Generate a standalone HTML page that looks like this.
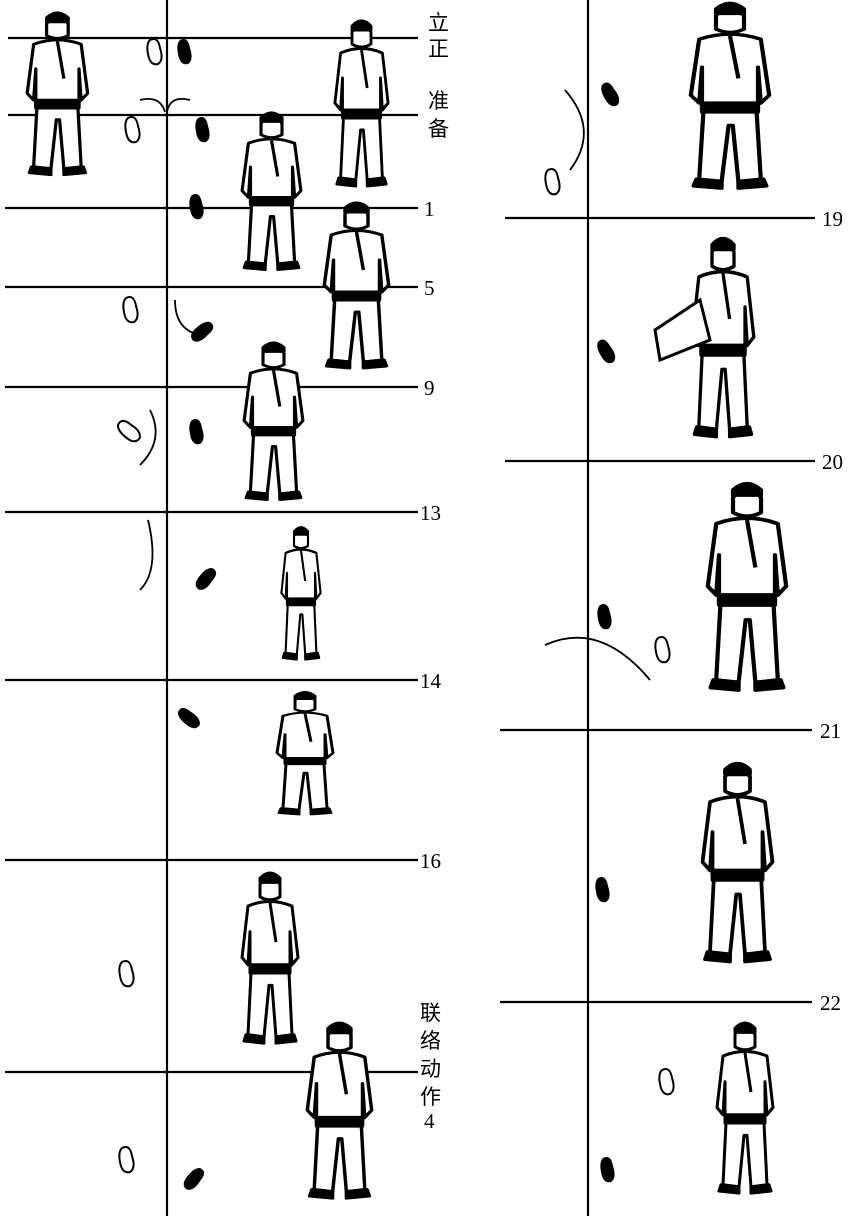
<!DOCTYPE html>
<html><head><meta charset="utf-8"><style>
html,body{margin:0;padding:0;background:#fff;}
svg{display:block;}
text{font-family:"Liberation Serif","Noto Serif CJK SC",serif;fill:#000;}
.cj{font-family:"Liberation Sans","Noto Sans CJK SC",sans-serif;font-size:21px;}
.n{font-size:21px;}
</style></head><body>
<svg width="853" height="1216" viewBox="0 0 853 1216" xmlns="http://www.w3.org/2000/svg">
<defs>
<g id="fig" stroke="#000" stroke-width="3" fill="#fff" stroke-linejoin="round">
  <path d="M20 14 Q30 0 40 14 L40 26 Q30 32 20 26 Z"/>
  <path d="M20 8 Q30 -2 40 8 L40 12 L20 12 Z" fill="#000"/>
  <path d="M8 35 Q30 26 52 35 L58 85 L52 92 L50 60 L50 98 L10 98 L10 60 L8 92 L2 85 Z"/>
  <path d="M30 32 L36 70" fill="none"/>
  <rect x="10" y="92" width="40" height="8" fill="#000"/>
  <path d="M11 100 L8 160 L24 162 L29 112 L32 112 L36 162 L52 160 L49 100 Z"/>
  <path d="M6 160 L24 162 L24 168 L4 166 Z M36 162 L54 160 L56 166 L36 168 Z" fill="#000"/>
</g>
<g id="foot"><path d="M0 0 Q8 -4 10 8 Q14 20 8 24 Q0 26 -2 14 Q-4 4 0 0Z"/></g>
</defs>
<g stroke="#000" stroke-width="2.2" fill="none">
  <line x1="167" y1="0" x2="167" y2="1216"/>
  <line x1="588" y1="0" x2="588" y2="1216"/>
  <line x1="8" y1="38" x2="418" y2="38"/>
  <line x1="8" y1="115" x2="418" y2="115"/>
  <line x1="5" y1="208" x2="418" y2="208"/>
  <line x1="5" y1="287" x2="418" y2="287"/>
  <line x1="5" y1="387" x2="418" y2="387"/>
  <line x1="5" y1="512" x2="418" y2="512"/>
  <line x1="5" y1="680" x2="418" y2="680"/>
  <line x1="5" y1="860" x2="418" y2="860"/>
  <line x1="5" y1="1072" x2="418" y2="1072"/>
  <line x1="505" y1="218" x2="815" y2="218"/>
  <line x1="505" y1="461" x2="815" y2="461"/>
  <line x1="500" y1="730" x2="812" y2="730"/>
  <line x1="500" y1="1002" x2="812" y2="1002"/>
</g>
<text class="cj" x="428" y="30">立</text>
<text class="cj" x="428" y="56">正</text>
<text class="cj" x="428" y="108">准</text>
<text class="cj" x="428" y="136">备</text>
<text class="n" x="424" y="216">1</text>
<text class="n" x="424" y="295">5</text>
<text class="n" x="424" y="395">9</text>
<text class="n" x="420" y="520">13</text>
<text class="n" x="420" y="688">14</text>
<text class="n" x="420" y="868">16</text>
<text class="cj" x="420" y="1020">联</text>
<text class="cj" x="420" y="1048">络</text>
<text class="cj" x="420" y="1076">动</text>
<text class="cj" x="420" y="1104">作</text>
<text class="n" x="424" y="1128">4</text>
<text class="n" x="822" y="226">19</text>
<text class="n" x="822" y="469">20</text>
<text class="n" x="820" y="738">21</text>
<text class="n" x="820" y="1010">22</text>

<use href="#fig" transform="translate(25,10) scale(1.08,0.98)"/>
<use href="#fig" transform="translate(333,18) scale(0.95,1.0)"/>
<use href="#fig" transform="translate(240,110) scale(1.05,0.95)"/>
<use href="#fig" transform="translate(322,200) scale(1.15,1.0)"/>
<use href="#fig" transform="translate(242,340) scale(1.05,0.95)"/>
<use href="#fig" transform="translate(280,525) scale(0.7,0.8)"/>
<use href="#fig" transform="translate(275,690) scale(1.0,0.74)"/>
<use href="#fig" transform="translate(240,870) scale(1.0,1.03)"/>
<use href="#fig" transform="translate(305,1020) scale(1.15,1.06)"/>
<use href="#fig" transform="translate(688,0) scale(1.4,1.12)"/>
<use href="#fig" transform="translate(690,235) scale(1.1,1.2)"/>
<path d="M700 300 L655 330 L660 360 L710 340 Z" stroke="#000" stroke-width="3" fill="#fff"/>
<use href="#fig" transform="translate(705,480) scale(1.4,1.25)"/>
<use href="#fig" transform="translate(700,760) scale(1.25,1.2)"/>
<use href="#fig" transform="translate(715,1020) scale(1.0,1.03)"/>

<g fill="#000">
<use href="#foot" transform="translate(180,40)"/>
<use href="#foot" transform="translate(198,118)"/>
<use href="#foot" transform="translate(192,195)"/>
<use href="#foot" transform="translate(210,322) rotate(60)"/>
<use href="#foot" transform="translate(192,420)"/>
<use href="#foot" transform="translate(212,568) rotate(50)"/>
<use href="#foot" transform="translate(178,712) rotate(-40)"/>
<use href="#foot" transform="translate(200,1168) rotate(50)"/>
<use href="#foot" transform="translate(602,85) rotate(-20)"/>
<use href="#foot" transform="translate(598,342) rotate(-20)"/>
<use href="#foot" transform="translate(600,605)"/>
<use href="#foot" transform="translate(598,878)"/>
<use href="#foot" transform="translate(603,1158)"/>
</g>
<g fill="#fff" stroke="#000" stroke-width="2">
<use href="#foot" transform="translate(150,40)"/>
<use href="#foot" transform="translate(128,118)"/>
<use href="#foot" transform="translate(126,298)"/>
<use href="#foot" transform="translate(118,425) rotate(-40)"/>
<use href="#foot" transform="translate(122,962)"/>
<use href="#foot" transform="translate(122,1148)"/>
<use href="#foot" transform="translate(548,170)"/>
<use href="#foot" transform="translate(658,638)"/>
<use href="#foot" transform="translate(662,1070)"/>
</g>
<g stroke="#000" stroke-width="1.8" fill="none">
<path d="M140 100 Q160 95 165 112 M190 100 Q170 95 167 112"/>
<path d="M148 520 Q160 570 140 590"/>
<path d="M565 90 Q600 130 570 170"/>
<path d="M545 645 Q600 620 650 680"/>
<path d="M175 300 Q175 330 200 335"/>
<path d="M150 410 Q165 440 140 465"/>
</g>
</svg>
</body></html>
